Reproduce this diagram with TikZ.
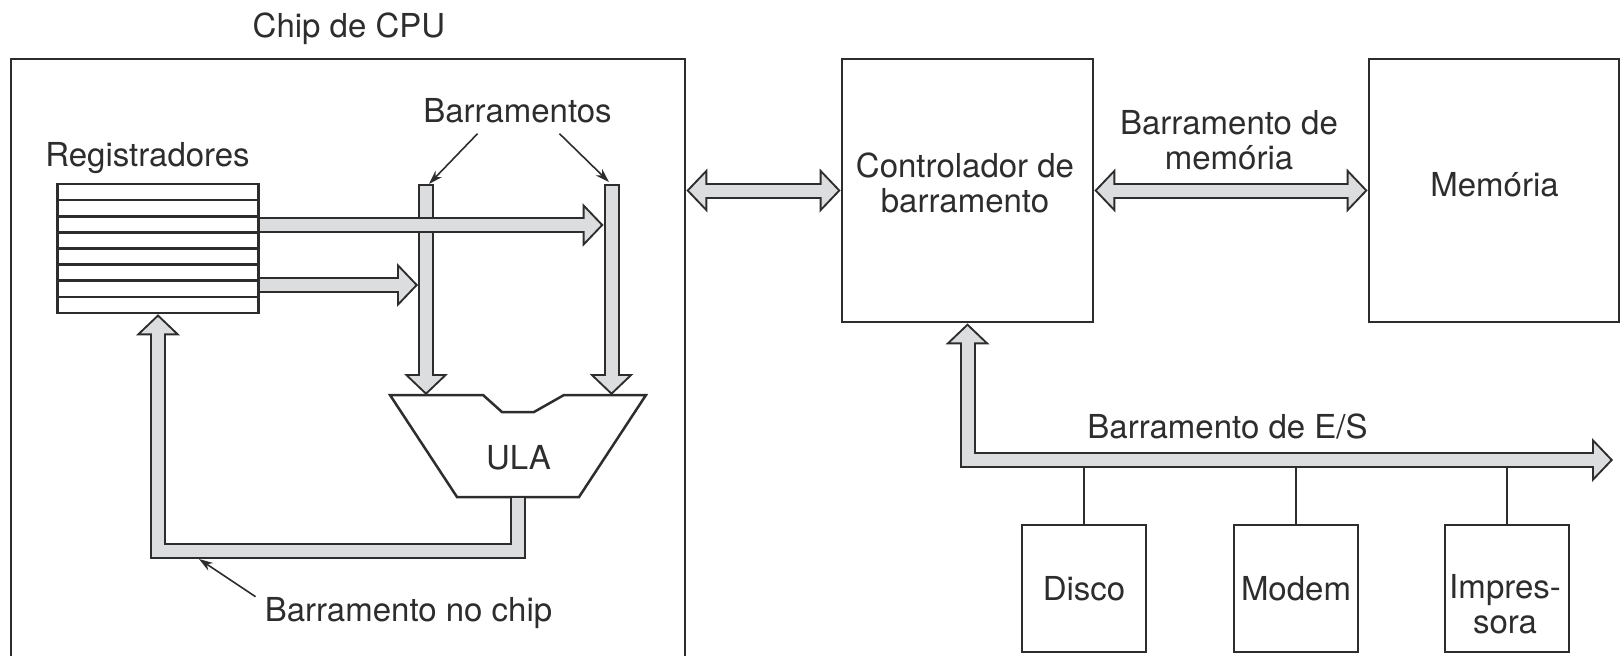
\documentclass[tikz,border=0pt]{standalone}
\usepackage{fontspec}
\setmainfont{TeX Gyre Heros}
\usetikzlibrary{arrows.meta,positioning,calc}
\definecolor{ink}{RGB}{45,45,45}
\definecolor{busfill}{RGB}{220,221,223}

\begin{document}
\begin{tikzpicture}[x=1pt,y=-1pt,
    busout/.tip={Triangle[length=21pt,width=44pt,line width=0pt]},
    busin/.tip={Triangle[length=16.2pt,width=34pt,line width=0pt]},
    box/.style={draw=ink,line width=2.8pt},
    txt/.style={font=\fontsize{33}{35}\selectfont,text=ink,inner sep=0pt},
    bus/.style={draw=busfill,line width=12pt,line join=miter,shorten >=2.8pt,-{busin},
        preaction={draw=ink,line width=16pt,shorten >=0pt,shorten <=#1,-{busout}}},
    bus/.default=0pt,
    dbus/.style={draw=busfill,line width=12pt,line join=miter,shorten >=2.8pt,shorten <=2.8pt,{busin}-{busin},
        preaction={draw=ink,line width=16pt,shorten >=0pt,shorten <=0pt,{busout}-{busout}}},
    leader/.style={draw=ink,line width=1.6pt,-{Stealth[length=14pt,width=9pt]}},
    stub/.style={draw=ink,line width=2.5pt}]
    \useasboundingbox (0,0) rectangle (1623,656);

    % chip
    \node[box,minimum width=674pt,minimum height=660pt] (cpu) at (348,389) {};
    \node[txt,anchor=base] (cpulbl) at (349,37) {Chip de CPU};

    % registers
    \node[box,line width=2.5pt,minimum width=201pt,minimum height=129pt] (regs) at (158,248.5) {};
    \foreach \k [evaluate=\k as \ry using 184+\k*16.125] in {1,...,7}
        \draw[ink,line width=2.6pt] (regs.west |- 0,\ry) -- (regs.east |- 0,\ry);
    \node[txt,anchor=base] (reglbl) at (147.5,166) {Registradores};

    % ALU
    \draw[ink,line width=2.5pt] (390,395) -- (483,395) -- (502,412) -- (534,412) -- (564,395)
        -- (646,395) -- (579,497) -- (457,497) -- cycle;
    \node[txt,anchor=base] (alu) at (518.5,469) {ULA};
    \coordinate (aluout) at (518,498);
    \coordinate (b1top) at (426,186);
    \coordinate (b1bot) at (426,395);
    \coordinate (b2top) at (611.5,186);
    \coordinate (b2bot) at (611.5,395);
    \coordinate (fbcorner) at (158,551);

    % buses inside the chip
    \draw[bus=-2pt] (b1top) -- (b1bot);
    \draw[bus=-2pt] (b2top) -- (b2bot);
    \draw[bus] (regs.east |- 0,225) -- ($(b2top |- 0,225)+(-8,0)$);
    \draw[bus] (regs.east |- 0,285) -- ($(b1top |- 0,285)+(-8,0)$);
    \draw[bus] (aluout) |- (fbcorner) -- (regs.south);

    \node[txt,anchor=base] (buslbl) at (517.5,122) {Barramentos};
    \draw[leader] ($(buslbl.south)+(-40,11)$) -- ($(b1top)+(3,-2)$);
    \draw[leader] ($(buslbl.south)+(42,11)$) -- ($(b2top)+(-2.5,-4)$);
    \node[txt,anchor=base] (chipbus) at (408.5,621) {Barramento no chip};
    \draw[leader] ($(chipbus.north west)+(-9,0)$) -- ($(fbcorner)+(41,8)$);

    % controller and memory
    \node[box,minimum width=251pt,minimum height=263pt] (ctrl) at (967.5,190.5) {};
    \node[txt,align=center] (ctrllbl) at (965,182.5) {Controlador de\\barramento};
    \node[box,minimum width=250pt,minimum height=263pt] (mem) at (1494,190.5) {};
    \node[txt,anchor=base] (memlbl) at (1494.5,196) {Memória};
    \node[txt,align=center] (membuslbl) at (1229,140) {Barramento de\\memória};
    \draw[dbus] (cpu.east |- ctrl.west) -- (ctrl.west);
    \draw[dbus] (ctrl.east) -- (mem.west);

    % I/O devices
    \coordinate (ioend) at (1613,460);
    \node[box,txt,minimum width=124pt,minimum height=127pt] (disco) at (1084,588.5) {Disco};
    \node[box,txt,minimum width=124pt,minimum height=127pt] (modem) at (1296,588.5) {Modem};
    \node[box,minimum width=124pt,minimum height=127pt] (impr) at (1507,588.5) {};
    \node[txt,align=center] (imprlbl) at (1505,604) {Impres-\\sora};
    \foreach \d in {disco,modem,impr}
        \draw[stub] (\d.north) -- (\d.north |- ioend);
    \draw[dbus] (ctrl.south) |- (ioend);
    \node[txt,anchor=base] (iolbl) at (1227.5,438) {Barramento de E/S};
\end{tikzpicture}
\end{document}
